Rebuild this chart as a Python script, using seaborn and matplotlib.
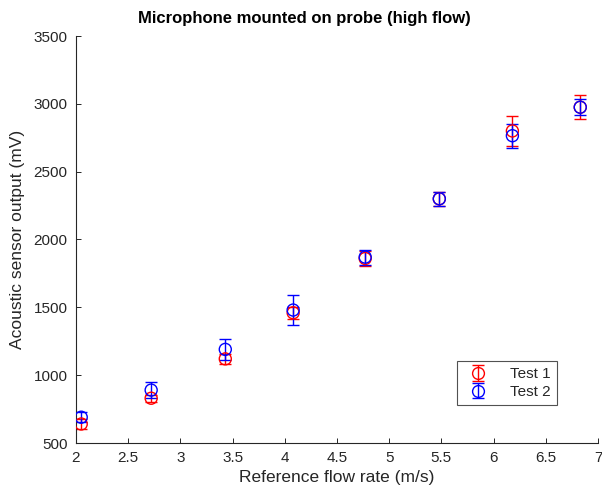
import numpy as np
import pandas as pd
import matplotlib
matplotlib.use("Agg")
import matplotlib.pyplot as plt
import seaborn as sns

flow = [2.05, 2.72, 3.43, 4.08, 4.77, 5.48, 6.18, 6.83]
test1 = [640, 830, 1120, 1460, 1860, 2300, 2800, 2975]
test1_err = [35, 25, 35, 45, 55, 50, 110, 90]
test2 = [690, 890, 1190, 1480, 1870, 2300, 2765, 2975]
test2_err = [35, 60, 75, 110, 55, 50, 90, 58]
series = ["Test 1", "Test 2"]
colors = {"Test 1": "#ff0000", "Test 2": "#0000ff"}

sns.set_style("white")
plt.rcParams["font.family"] = ["Liberation Sans", "DejaVu Sans"]

df = pd.DataFrame({
    "flow": flow * 2,
    "value": test1 + test2,
    "err": test1_err + test2_err,
    "series": [series[0]] * len(flow) + [series[1]] * len(flow),
})

fig = plt.figure(figsize=(6.02, 4.94), dpi=100)
ax = fig.add_axes([76 / 602, 1 - 443 / 494, (598 - 76) / 602, (443 - 36) / 494])

handles = []
for s in series:
    sub = df[df["series"] == s]
    eb = ax.errorbar(sub["flow"], sub["value"], yerr=sub["err"], fmt="none",
                     ecolor=colors[s], elinewidth=1, capsize=4.5, capthick=1, zorder=2)
    sns.scatterplot(data=sub, x="flow", y="value", ax=ax, marker="o", s=75,
                    facecolors="none", edgecolor=colors[s], linewidth=1,
                    legend=False, zorder=3)
    mk = plt.Line2D([], [], marker="o", ls="none", mfc="none", mec=colors[s], ms=8.5)
    handles.append((eb, mk))

ax.set_xlim(2, 7)
ax.set_ylim(500, 3500)
ax.set_xticks([2, 2.5, 3, 3.5, 4, 4.5, 5, 5.5, 6, 6.5, 7])
ax.set_xticklabels(["2", "2.5", "3", "3.5", "4", "4.5", "5", "5.5", "6", "6.5", "7"])
ax.set_yticks(np.arange(500, 3501, 500))
ax.tick_params(direction="in", length=3.5, width=0.7, color="#262626",
               labelcolor="#262626", labelsize=11, bottom=True, left=True)
ax.tick_params(axis="x", pad=6)
ax.tick_params(axis="y", pad=6)
for sp in ["top", "right"]:
    ax.spines[sp].set_visible(False)
for sp in ["left", "bottom"]:
    ax.spines[sp].set_color("#262626")
    ax.spines[sp].set_linewidth(0.8)

ax.set_xlabel("Reference flow rate (m/s)", fontsize=12.5, color="#262626", labelpad=3)
ax.set_ylabel("Acoustic sensor output (mV)", fontsize=12.5, color="#262626", labelpad=6)
fig.text(0.505, 1 - 19 / 494, "Microphone mounted on probe (high flow)", fontsize=12,
         fontweight="bold", ha="center", va="center", color="black")

leg = ax.legend(handles, series, loc="lower right", bbox_to_anchor=(0.921, 0.093),
                borderaxespad=0, frameon=True, fancybox=False, fontsize=11,
                handlelength=2.0, borderpad=0.4, labelspacing=0.25, handletextpad=1.1)
leg.get_frame().set_edgecolor("#262626")
leg.get_frame().set_linewidth(0.8)

fig.savefig("out.png", dpi=100)
